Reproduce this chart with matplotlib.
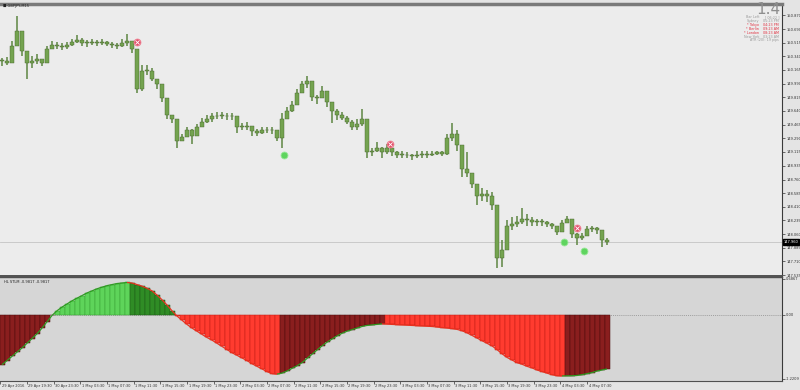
import numpy as np
import matplotlib
matplotlib.use('Agg')
import matplotlib.pyplot as plt
from matplotlib.collections import LineCollection
from matplotlib.transforms import ScaledTranslation, blended_transform_factory

# GBPJPY M15, one value per 3 bars (45 min)
high = [150.32, 150.33, 150.54, 150.86, 150.63, 150.35, 150.35, 150.37, 150.31, 150.47,
        150.54, 150.53, 150.51, 150.53, 150.56, 150.61, 150.58, 150.55, 150.56, 150.55,
        150.56, 150.54, 150.53, 150.51, 150.56, 150.63, 150.54, 150.41, 150.23, 150.23,
        150.19, 150.05, 149.87, 149.71, 149.59, 149.43, 149.35, 149.44, 149.41, 149.47,
        149.55, 149.59, 149.61, 149.63, 149.62, 149.61, 149.61, 149.58, 149.49, 149.50,
        149.43, 149.41, 149.43, 149.44, 149.44, 149.40, 149.61, 149.69, 149.77, 149.92,
        150.03, 150.09, 150.03, 149.85, 149.96, 149.90, 149.72, 149.67, 149.62, 149.57,
        149.52, 149.54, 149.67, 149.39, 149.17, 149.24, 149.18, 149.22, 149.17, 149.12,
        149.12, 149.11, 149.09, 149.12, 149.12, 149.12, 149.13, 149.13, 149.13, 149.35,
        149.48, 149.39, 149.07, 149.11, 148.79, 148.67, 148.65, 148.63, 148.60, 148.30,
        147.98, 148.24, 148.28, 148.29, 148.39, 148.32, 148.28, 148.26, 148.25, 148.23,
        148.20, 148.15, 148.24, 148.29, 148.21, 148.07, 148.07, 148.16, 148.16, 148.15,
        148.11, 148.01]
low = [150.22, 150.23, 150.26, 150.54, 150.35, 150.05, 150.19, 150.24, 150.21, 150.28,
       150.44, 150.44, 150.42, 150.44, 150.47, 150.51, 150.47, 150.46, 150.49, 150.47,
       150.49, 150.47, 150.45, 150.44, 150.46, 150.47, 150.38, 149.87, 149.90, 150.10,
       150.03, 149.92, 149.75, 149.54, 149.48, 149.16, 149.25, 149.31, 149.22, 149.36,
       149.43, 149.49, 149.50, 149.54, 149.54, 149.53, 149.53, 149.36, 149.39, 149.39,
       149.32, 149.32, 149.35, 149.36, 149.35, 149.25, 149.17, 149.54, 149.62, 149.77,
       149.87, 149.94, 149.77, 149.73, 149.82, 149.69, 149.48, 149.52, 149.52, 149.47,
       149.39, 149.39, 149.45, 149.03, 149.06, 149.11, 149.04, 149.09, 149.06, 149.04,
       149.04, 149.03, 149.01, 149.04, 149.04, 149.04, 149.06, 149.07, 149.06, 149.08,
       149.26, 149.13, 148.79, 148.79, 148.65, 148.43, 148.49, 148.47, 148.37, 147.63,
       147.64, 147.98, 148.11, 148.15, 148.19, 148.17, 148.16, 148.17, 148.17, 148.15,
       148.12, 148.05, 148.11, 148.20, 148.01, 147.92, 147.98, 148.07, 148.09, 148.06,
       147.89, 147.92]
close = [150.28, 150.26, 150.47, 150.67, 150.41, 150.26, 150.28, 150.31, 150.26, 150.44,
         150.49, 150.47, 150.46, 150.49, 150.53, 150.55, 150.51, 150.51, 150.53, 150.51,
         150.53, 150.50, 150.49, 150.47, 150.51, 150.54, 150.44, 149.92, 150.15, 150.15,
         150.05, 149.98, 149.81, 149.59, 149.54, 149.26, 149.30, 149.39, 149.32, 149.43,
         149.50, 149.54, 149.57, 149.58, 149.58, 149.57, 149.57, 149.44, 149.44, 149.45,
         149.38, 149.36, 149.39, 149.40, 149.39, 149.29, 149.54, 149.64, 149.72, 149.87,
         149.98, 150.03, 149.82, 149.80, 149.90, 149.75, 149.64, 149.59, 149.55, 149.50,
         149.44, 149.47, 149.54, 149.11, 149.12, 149.17, 149.11, 149.16, 149.11, 149.08,
         149.08, 149.07, 149.06, 149.08, 149.08, 149.08, 149.09, 149.11, 149.09, 149.29,
         149.35, 149.20, 148.90, 148.85, 148.70, 148.55, 148.57, 148.55, 148.43, 147.75,
         147.86, 148.17, 148.19, 148.21, 148.26, 148.24, 148.21, 148.23, 148.21, 148.19,
         148.16, 148.09, 148.20, 148.25, 148.06, 148.01, 148.03, 148.12, 148.14, 148.11,
         147.98, 147.96]

# HL STLM oscillator
stlm = [-0.95, -0.87, -0.79, -0.71, -0.63, -0.54, -0.45, -0.36, -0.25, -0.13,
        -0.01, 0.08, 0.15, 0.21, 0.27, 0.32, 0.37, 0.42, 0.46, 0.50,
        0.53, 0.56, 0.58, 0.60, 0.61, 0.62, 0.61, 0.58, 0.55, 0.51,
        0.46, 0.38, 0.29, 0.19, 0.08, -0.02, -0.10, -0.18, -0.25, -0.31,
        -0.37, -0.43, -0.48, -0.54, -0.60, -0.66, -0.72, -0.77, -0.82, -0.87,
        -0.93, -0.98, -1.03, -1.08, -1.12, -1.13, -1.11, -1.07, -1.02, -0.97,
        -0.91, -0.83, -0.75, -0.67, -0.59, -0.52, -0.46, -0.40, -0.35, -0.31,
        -0.28, -0.25, -0.22, -0.20, -0.19, -0.18, -0.17, -0.175, -0.18, -0.185,
        -0.19, -0.195, -0.20, -0.205, -0.21, -0.215, -0.22, -0.23, -0.24, -0.25,
        -0.26, -0.275, -0.30, -0.34, -0.39, -0.44, -0.49, -0.54, -0.59, -0.66,
        -0.74, -0.81, -0.86, -0.91, -0.94, -0.98, -1.01, -1.05, -1.08, -1.11,
        -1.14, -1.16, -1.165, -1.162, -1.16, -1.155, -1.14, -1.12, -1.10, -1.07,
        -1.05, -1.03]

sig_bar = [82, 170, 234, 338, 346, 350]
sig_price = [150.53, 149.08, 149.21, 147.96, 148.14, 147.84]
sig_kind = ['sell', 'buy', 'sell', 'buy', 'sell', 'buy']

price_ticks = [150.870, 150.690, 150.515, 150.340, 150.165, 149.990, 149.815, 149.640,
               149.465, 149.290, 149.115, 148.935, 148.760, 148.585, 148.410, 148.235,
               148.060, 147.885, 147.710, 147.535]
time_labels = ['29 Apr 2016', '29 Apr 19:30', '30 Apr 23:30', '1 May 03:30', '1 May 07:30',
               '1 May 11:30', '1 May 15:30', '1 May 19:30', '1 May 23:30', '2 May 03:30',
               '2 May 07:30', '2 May 11:30', '2 May 15:30', '2 May 19:30', '2 May 23:30',
               '3 May 03:30', '3 May 07:30', '3 May 11:30', '3 May 15:30', '3 May 19:30',
               '3 May 23:30', '4 May 03:30', '4 May 07:30']

info_names = ['Bar Left', 'Sydney', '* Tokyo', '* Berlin', '* London', 'New York', '']
info_vals = ['[ 06:22 ]', '05:23 PM', '04:23 PM', '09:23 AM', '08:23 AM', '03:23 AM',
             'ATR (20): 19 pips']
info_red = [False, False, True, True, True, False, False]

x = np.arange(len(close)) * 3 + 1
opn = [close[0]] + close[:-1]

fig = plt.figure(figsize=(8, 3.9), dpi=100)
fig.patch.set_facecolor('#e4e4e4')

ax = fig.add_axes([0.0, 0.2923, 0.9775, 0.6974])
ax.set_facecolor('#ececec')
ax.vlines(x, low, high, color='#5d8642', lw=1.1, zorder=3)
body_lo = np.minimum(opn, close)
body_h = np.maximum(np.abs(np.array(close) - np.array(opn)), 0.01)
ax.bar(x, body_h, bottom=body_lo, width=2.0, color='#74a350', edgecolor='#46652c',
       linewidth=0.3, zorder=4)

ax.axhline(close[-1], color='#c4c4c4', lw=0.6, zorder=1)

for bx, py, k in zip(sig_bar, sig_price, sig_kind):
    if k == 'sell':
        ax.plot(bx, py, 'o', ms=5, mfc='#e2506a', mec='#f08898', mew=0.6, zorder=6)
        ax.plot(bx, py, 'x', ms=2.2, color='white', mew=0.6, zorder=7)
    else:
        ax.plot(bx, py, 'o', ms=5, mfc='#5fd45f', mec='#9ae89a', mew=0.6, zorder=6)

ax.set_xlim(-0.2, 469)
ax.set_ylim(147.523, 151.011)
ax.set_xticks([])
ax.yaxis.tick_right()
ax.set_yticks(price_ticks, [f'{t:.3f}' for t in price_ticks])
ax.tick_params(axis='y', labelsize=2.6, length=2, width=0.5, pad=1, colors='#333333')
ax.spines['left'].set_visible(False)
ax.spines['top'].set_color('#7a7a7a')
ax.spines['top'].set_linewidth(2.5)
ax.spines['right'].set_color('#3a3a3a')
ax.spines['right'].set_linewidth(0.8)
ax.spines['bottom'].set_color('#505050')
ax.spines['bottom'].set_linewidth(1.4)

tr = blended_transform_factory(ax.transAxes, ax.transData)
ax.text(1.002, close[-1], f'{close[-1]:.3f}', transform=tr, fontsize=2.6, color='white',
        va='center', ha='left', zorder=10,
        bbox=dict(boxstyle='square,pad=0.25', fc='black', ec='black'))

fig.text(0.004, 1 - 6.5 / 390, '\u25a0 GBPJPY,M15', fontsize=2.6, color='#222222', va='center')

# info panel
fig.text(0.975, 1 - 9 / 390, '1.4', fontsize=11, color='#8e8e8e', ha='right', va='center',
         zorder=20)
for j in range(len(info_vals)):
    yy = 1 - (17 + 3.9 * j) / 390
    col = '#e03040' if info_red[j] else '#9a9a9a'
    if info_names[j]:
        fig.text(0.949, yy, info_names[j], fontsize=2.4, color=col, ha='right', va='center',
                 zorder=20)
    fig.text(0.974, yy, info_vals[j], fontsize=2.4, color=col, ha='right', va='center',
             zorder=20)

# indicator window
ax2 = fig.add_axes([0.0, 0.0231, 0.9775, 0.2667])
ax2.set_facecolor('#d6d6d6')
v = np.array(stlm)
d = np.diff(v, prepend=v[0] - (v[1] - v[0]))
cols, edges = [], []
for val, dv in zip(v, d):
    if val >= 0:
        if dv > 0:
            cols.append('#5ed45a'); edges.append('#38a034')
        else:
            cols.append('#2f8c25'); edges.append('#1c5a16')
    else:
        if dv < 0:
            cols.append('#ff3b2f'); edges.append('#c01c14')
        else:
            cols.append('#8a1e1e'); edges.append('#4a0c0c')
ax2.bar(x, v, width=3, color=cols, edgecolor=edges, linewidth=0.35, zorder=3)

pts = np.column_stack([x, v])
segs = np.stack([pts[:-1], pts[1:]], axis=1)
seg_cols = ['#2f9a22' if b > a else '#e8301e' for a, b in zip(v[:-1], v[1:])]
ax2.add_collection(LineCollection(segs, colors=seg_cols, linewidths=0.9, zorder=4))

ax2.axhline(0, color='#8a8a8a', lw=0.5, ls=(0, (1.5, 1.5)), zorder=2)
ax2.set_xlim(-0.2, 469)
ax2.set_ylim(-1.26, 0.725)
ax2.yaxis.tick_right()
ax2.set_yticks([0.6867, 0.0, -1.2209], ['0.6867', '0.00', '-1.2209'])
ax2.tick_params(axis='y', labelsize=2.6, length=2, width=0.5, pad=1, colors='#333333')
ax2.set_xticks(np.arange(len(time_labels)) * 16, time_labels)
ax2.tick_params(axis='x', labelsize=2.6, length=2, width=0.5, pad=0.5, colors='#333333')
off = ScaledTranslation(1.5 / 100, 0, fig.dpi_scale_trans)
for lbl in ax2.get_xticklabels():
    lbl.set_ha('left')
    lbl.set_transform(lbl.get_transform() + off)
ax2.spines['left'].set_visible(False)
ax2.spines['top'].set_color('#505050')
ax2.spines['top'].set_linewidth(1.0)
ax2.spines['right'].set_color('#3a3a3a')
ax2.spines['right'].set_linewidth(0.8)
ax2.spines['bottom'].set_color('#505050')
ax2.spines['bottom'].set_linewidth(0.8)

fig.text(0.005, 1 - 282 / 390, 'HL STLM -0.9817 -0.9817', fontsize=2.6, color='#222222',
         va='center')

fig.savefig('out.png', dpi=100, facecolor=fig.get_facecolor())
